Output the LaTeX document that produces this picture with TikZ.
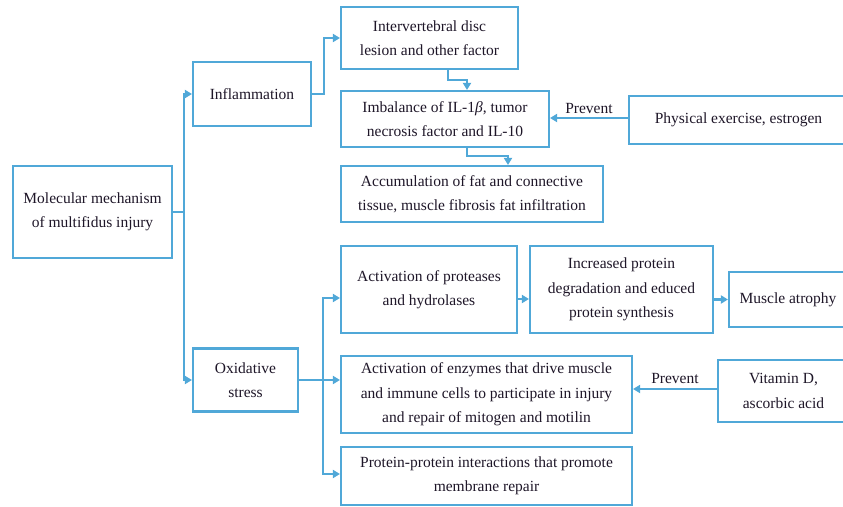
\documentclass[tikz,border=0pt]{standalone}
\usepackage{fontspec}
\setmainfont{Liberation Serif}
\usetikzlibrary{arrows.meta,calc}
\definecolor{lineblue}{RGB}{80,168,216}
\definecolor{txt}{RGB}{30,22,40}
\begin{document}
\begin{tikzpicture}[x=1pt,y=-1pt,
  box/.style={draw=lineblue,line width=2.1pt,inner sep=0pt,align=center,text=txt,font=\fontsize{15.5}{24.5}\selectfont},
  ln/.style={draw=lineblue,line width=2.1pt},
  arr/.style={ln,-{Triangle[length=7pt,width=8pt]}},
  lbl/.style={text=txt,font=\fontsize{15.5}{18}\selectfont,inner sep=2pt}]
\clip (0,0) rectangle (843,506);
\fill[white] (0,0) rectangle (843,506);
% boxes
\node[box,minimum width=159pt,minimum height=92pt] (mol) at (92.5,212) {Molecular mechanism\\of multifidus injury};
\node[box,minimum width=118pt,minimum height=64pt] (infl) at (252,94) {Inflammation};
\node[box,minimum width=105pt,minimum height=63pt] (ox) at (245.5,380) {Oxidative\\stress};
\node[box,minimum width=177pt,minimum height=62pt] (ivd) at (429.5,38) {Intervertebral disc\\lesion and other factor};
\node[box,minimum width=208pt,minimum height=56pt] (imb) at (445,119) {Imbalance of IL-1{\itshape β}, tumor\\necrosis factor and IL-10};
\node[box,minimum width=262pt,minimum height=56pt] (acc) at (472,194) {Accumulation of fat and connective\\tissue, muscle fibrosis fat infiltration};
\node[box,minimum width=219pt,minimum height=48pt] (phys) at (738.5,120) {Physical exercise, estrogen};
\node[box,minimum width=176pt,minimum height=87pt] (prot) at (429,289.5) {Activation of proteases\\and hydrolases};
\node[box,minimum width=183pt,minimum height=87pt] (inc) at (621.5,289.5) {Increased protein\\degradation and educed\\protein synthesis};
\node[box,minimum width=118pt,minimum height=55pt] (atro) at (788,299.5) {Muscle atrophy};
\node[box,minimum width=291pt,minimum height=77pt] (enz) at (486.5,394.5) {Activation of enzymes that drive muscle\\and immune cells to participate in injury\\and repair of mitogen and motilin};
\node[box,minimum width=291pt,minimum height=58pt] (pp) at (486.5,476) {Protein-protein interactions that promote\\membrane repair};
\node[box,minimum width=131pt,minimum height=62pt] (vit) at (783.5,391) {Vitamin D,\\ascorbic acid};
% connectors
\coordinate (j1) at ([xshift=11pt]mol.east);
\draw[ln] (mol.east) -- (j1);
\draw[arr] (j1) |- (infl.west);
\draw[arr] (j1) |- (ox.west);
\draw[arr] (infl.east) -- ++(12,0) |- (ivd.west);
\draw[arr] ([xshift=18.5pt]ivd.south) -- ++(0,10) -| ([xshift=22pt]imb.north);
\draw[arr] ([xshift=22pt]imb.south) -- ++(0,8) -| ([xshift=36pt]acc.north);
\draw[arr] ([yshift=2pt]phys.west) -- ([yshift=2pt]phys.west -| imb.east) node[lbl,midway,above=1pt] {Prevent};
\coordinate (j3) at ([xshift=24pt]ox.east);
\draw[arr] (ox.east) -- (ox.east -| enz.west);
\draw[arr] (j3) |- ([yshift=-8.5pt]prot.west);
\draw[arr] (j3) |- ([yshift=2pt]pp.west);
\draw[arr] ([yshift=-9.5pt]prot.east) -- ([yshift=-9.5pt]prot.east -| inc.west);
\draw[arr] (atro.west -| inc.east) -- (atro.west);
\draw[arr] ([yshift=2pt]vit.west) -- ([yshift=2pt]vit.west -| enz.east) node[lbl,midway,above=2pt] {Prevent};
\end{tikzpicture}
\end{document}
